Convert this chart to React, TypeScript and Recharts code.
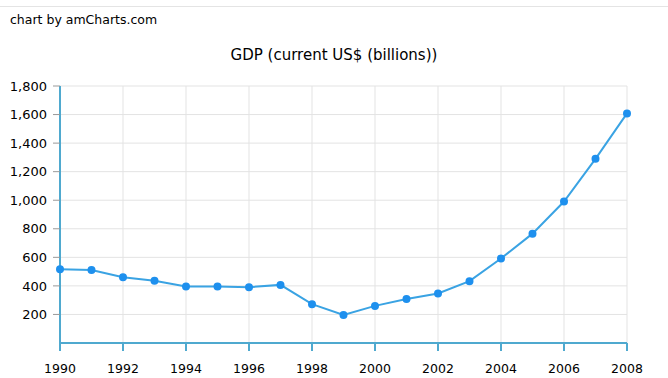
import { LineChart, Line, XAxis, YAxis, CartesianGrid } from 'recharts';

// GDP (current US$, billions)
const years = [
  1990, 1991, 1992, 1993, 1994, 1995, 1996, 1997, 1998, 1999, 2000, 2001,
  2002, 2003, 2004, 2005, 2006, 2007, 2008
];
const gdp = [
  516, 511, 461, 436, 395, 396, 391, 407, 272, 196, 260, 308, 347, 433, 592,
  766, 991, 1290, 1608
];
const xTicks = [1990, 1992, 1994, 1996, 1998, 2000, 2002, 2004, 2006, 2008];
const yTicks = [200, 400, 600, 800, 1000, 1200, 1400, 1600, 1800];

const data = years.map((year, i) => ({ year, gdp: gdp[i] }));

const FONT = '"DejaVu Sans", Verdana, sans-serif';
const AXIS = '#4fa9cf';

const App = () => {
  return (
    <div
      style={{
        position: 'absolute',
        left: 0,
        top: 0,
        width: 668,
        height: 378,
        background: '#fff',
        fontFamily: FONT
      }}
    >
      <div
        style={{
          position: 'absolute',
          left: 0,
          top: 6,
          width: 668,
          height: 1,
          background: '#e4e4e4'
        }}
      />
      <div
        style={{
          position: 'absolute',
          left: 10,
          top: 12,
          fontSize: 12.5,
          color: '#000'
        }}
      >
        chart by amCharts.com
      </div>
      <div
        style={{
          position: 'absolute',
          left: 0,
          top: 46,
          width: 668,
          textAlign: 'center',
          fontSize: 15,
          color: '#000'
        }}
      >
        GDP (current US$ (billions))
      </div>
      <LineChart
        width={668}
        height={378}
        data={data}
        margin={{ top: 86, right: 41, bottom: 0, left: 0 }}
        style={{ position: 'absolute', left: 0, top: 0 }}
      >
        <CartesianGrid stroke='#e3e3e3' vertical horizontal />
        <XAxis
          dataKey='year'
          type='number'
          domain={[1990, 2008]}
          ticks={xTicks}
          height={35}
          axisLine={{ stroke: AXIS, strokeWidth: 2 }}
          tickLine={{ stroke: AXIS, strokeWidth: 2 }}
          tickSize={8}
          tickMargin={13}
          tick={{ fill: '#000', fontSize: 12.5, fontFamily: FONT }}
        />
        <YAxis
          type='number'
          domain={[0, 1800]}
          ticks={yTicks}
          width={60}
          axisLine={{ stroke: AXIS, strokeWidth: 2 }}
          tickLine={{ stroke: '#999' }}
          tickSize={7}
          tickMargin={6}
          tickFormatter={(v) => v.toLocaleString('en-US')}
          tick={{ fill: '#000', fontSize: 13, fontFamily: FONT }}
        />
        <Line
          dataKey='gdp'
          type='linear'
          stroke='#3aa3e3'
          strokeWidth={2}
          dot={{ r: 3, fill: '#1e90ee', stroke: '#1e90ee' }}
          isAnimationActive={false}
        />
      </LineChart>
    </div>
  );
};

export default App;
